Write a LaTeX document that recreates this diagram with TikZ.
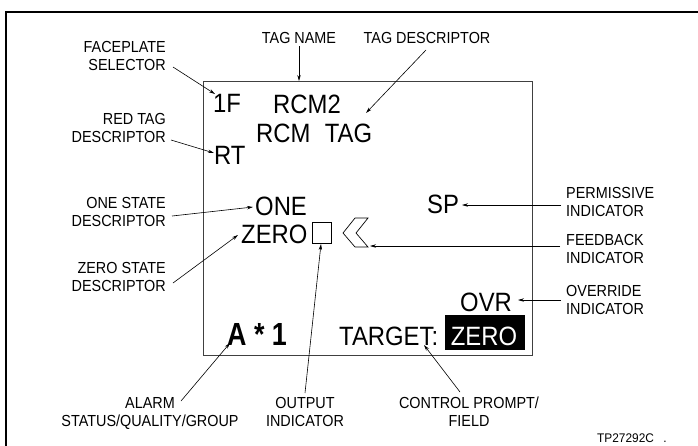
\documentclass[tikz,border=0pt]{standalone}
\usepackage{fontspec}
\setmainfont{Liberation Sans}
\usetikzlibrary{arrows.meta}
\newcommand{\Lbl}[2]{\scalebox{0.9}[1]{\begin{tabular}[b]{@{}#1@{}}#2\end{tabular}}}
\newcommand{\Dsp}[1]{\scalebox{0.9}[1]{#1}}
\begin{document}
\begin{tikzpicture}[x=1pt,y=-1pt,
  lbl/.style={font=\fontsize{16}{18}\selectfont, inner sep=0pt},
  disp/.style={font=\fontsize{26.5}{26.5}\selectfont, inner sep=0pt},
  ptr/.style={line width=0.6pt, -{Stealth[length=6pt,width=3.4pt]}}]
\useasboundingbox (0,0) rectangle (698,445);
% outer frame (open to right and bottom)
\draw[line width=1.3pt] (6,470) -- (6,12) -- (720,12);
% display box
\draw[line width=0.9pt, draw=black!75] (203,81) rectangle (532,355);

% display contents
\node[disp, anchor=base west] (f1) at (213,112) {\Dsp{1F}};
\node[disp, anchor=base west] (rcm2) at (273,113) {\Dsp{RCM2}};
\node[disp, anchor=base west] (rcmtag) at (256,142) {\Dsp{RCM\hspace{0.6em}TAG}};
\node[disp, anchor=base west] (rt) at (214,164) {\Dsp{RT}};
\node[disp, anchor=base west] (one) at (255,215) {\Dsp{ONE}};
\node[disp, anchor=base west] (zero) at (241,243) {\Dsp{ZERO}};
\node[draw, line width=0.7pt, minimum width=19pt, minimum height=21pt, inner sep=0pt] (outbox) at (321.5,232.5) {};
\draw[line width=0.7pt] (343,233) -- (355,218) -- (368,218) -- (356,233) -- (368,247) -- (355,247) -- cycle;
\coordinate (fbk) at (370,246);
\node[disp, anchor=base west] (sp) at (427,213) {\Dsp{SP}};
\node[disp, anchor=base west] (ovr) at (460,311) {\Dsp{OVR}};
\node[disp, anchor=base west] (target) at (339,345) {\Dsp{TARGET:}};
\node[fill=black, minimum width=80pt, minimum height=35pt, inner sep=0pt] (tbox) at (485,332.5) {};
\node[disp, text=white, anchor=base] (tzero) at (484,345) {\Dsp{ZERO}};
\node[font=\fontsize{32}{32}\selectfont\bfseries, anchor=base west, inner sep=0pt] (alarm) at (227,345) {\scalebox{0.84}[1]{A * 1}};

% labels
\node[lbl, anchor=base east] (fsl) at (166,70) {\Lbl{r}{FACEPLATE\\SELECTOR}};
\node[lbl, anchor=base] (tnl) at (299,43) {\Lbl{c}{TAG NAME}};
\node[lbl, anchor=base] (tdl) at (427,43) {\Lbl{c}{TAG DESCRIPTOR}};
\node[lbl, anchor=base east] (rtl) at (166,142) {\Lbl{r}{RED TAG\\DESCRIPTOR}};
\node[lbl, anchor=base east] (osl) at (166,226) {\Lbl{r}{ONE STATE\\DESCRIPTOR}};
\node[lbl, anchor=base east] (zsl) at (166,291) {\Lbl{r}{ZERO STATE\\DESCRIPTOR}};
\node[lbl, anchor=base west] (pil) at (566,216) {\Lbl{l}{PERMISSIVE\\INDICATOR}};
\node[lbl, anchor=base west] (fbl) at (566,263) {\Lbl{l}{FEEDBACK\\INDICATOR}};
\node[lbl, anchor=base west] (ovl) at (566,314) {\Lbl{l}{OVERRIDE\\INDICATOR}};
\node[lbl, anchor=base] (all) at (150,426) {\Lbl{c}{ALARM\\STATUS/QUALITY/GROUP}};
\node[lbl, anchor=base] (oil) at (305,426) {\Lbl{c}{OUTPUT\\INDICATOR}};
\node[lbl, anchor=base] (cpl) at (469,426) {\Lbl{c}{CONTROL PROMPT/\\FIELD}};
\node[font=\fontsize{12.5}{12.5}\selectfont, inner sep=0pt, anchor=base west] (tp) at (597,442) {\scalebox{0.95}[1]{TP27292C\hspace{0.8em}.}};

% pointers
\coordinate (a1s) at (173,67);  \coordinate (a1e) at (215,94);
\coordinate (a2s) at (299,46);  \coordinate (a2e) at (299,81);
\coordinate (a3s) at (426,50);  \coordinate (a3e) at (366,113);
\coordinate (a4s) at (171,140); \coordinate (a4e) at (214,153);
\coordinate (a5s) at (172,216); \coordinate (a5e) at (253,207);
\coordinate (a6s) at (173,283); \coordinate (a6e) at (238,235);
\coordinate (a7s) at (561,205); \coordinate (a7e) at (462,205);
\coordinate (a8s) at (560,246);
\coordinate (a9s) at (561,300); \coordinate (a9e) at (518,300);
\coordinate (a10s) at (181,401); \coordinate (a10e) at (230,343);
\coordinate (a11s) at (305,393); \coordinate (a11e) at (321,244);
\coordinate (a12s) at (460,392); \coordinate (a12e) at (424,345);
\draw[ptr] (a1s) -- (a1e);
\draw[ptr] (a2s) -- (a2e);
\draw[ptr] (a3s) -- (a3e);
\draw[ptr] (a4s) -- (a4e);
\draw[ptr] (a5s) -- (a5e);
\draw[ptr] (a6s) -- (a6e);
\draw[ptr] (a7s) -- (a7e);
\draw[ptr] (a8s) -- (fbk);
\draw[ptr] (a9s) -- (a9e);
\draw[ptr] (a10s) -- (a10e);
\draw[ptr] (a11s) -- (a11e);
\draw[ptr] (a12s) -- (a12e);
\end{tikzpicture}
\end{document}
